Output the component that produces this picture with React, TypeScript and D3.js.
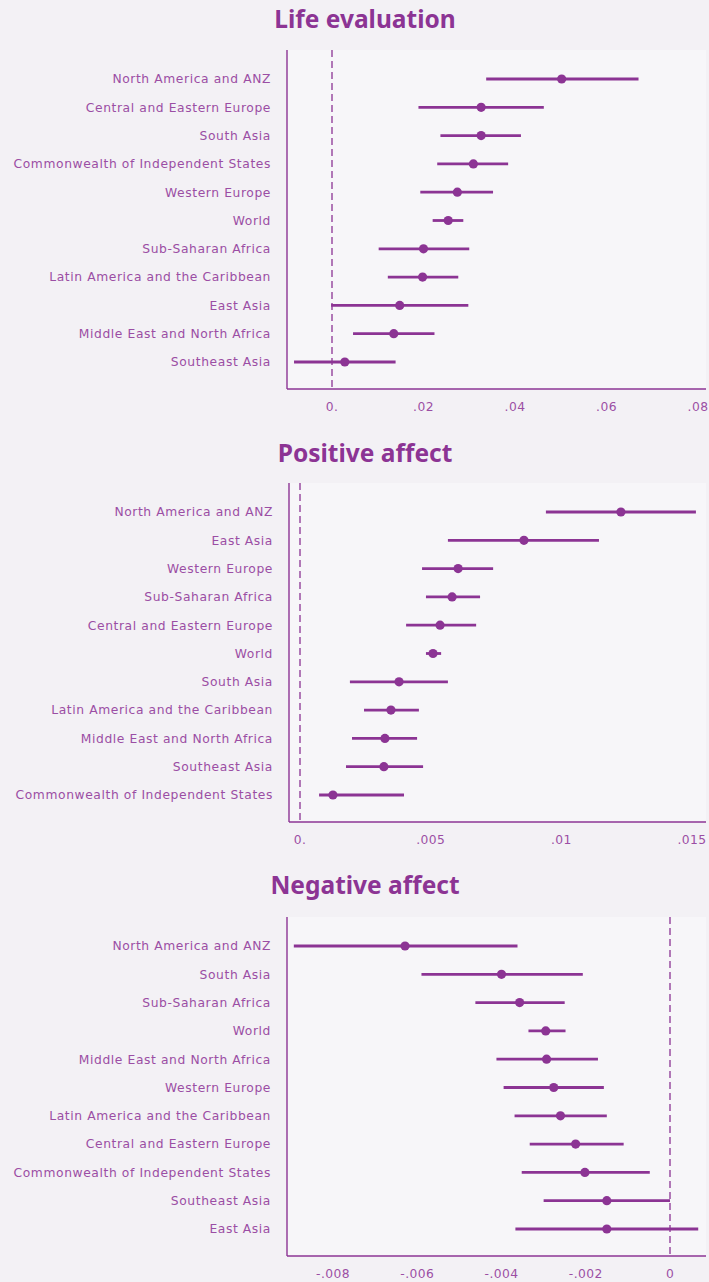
import React from 'react';
import * as d3 from 'd3';

// region order as drawn, top row first
const lifeRegions = [
  'North America and ANZ', 'Central and Eastern Europe', 'South Asia',
  'Commonwealth of Independent States', 'Western Europe', 'World',
  'Sub-Saharan Africa', 'Latin America and the Caribbean', 'East Asia',
  'Middle East and North Africa', 'Southeast Asia',
];
const lifeEst = [0.0502, 0.0326, 0.0326, 0.0309, 0.0274, 0.0254, 0.0200, 0.0198, 0.0148, 0.0135, 0.0028];
const lifeLo = [0.0337, 0.0189, 0.0237, 0.0230, 0.0193, 0.0220, 0.0102, 0.0122, -0.0002, 0.0046, -0.0083];
const lifeHi = [0.0670, 0.0463, 0.0413, 0.0385, 0.0352, 0.0287, 0.0300, 0.0276, 0.0298, 0.0224, 0.0139];
const lifeTicks = [0, 0.02, 0.04, 0.06, 0.08];
const lifeTickLabels = ['0.', '.02', '.04', '.06', '.08'];

const posRegions = [
  'North America and ANZ', 'East Asia', 'Western Europe', 'Sub-Saharan Africa',
  'Central and Eastern Europe', 'World', 'South Asia', 'Latin America and the Caribbean',
  'Middle East and North Africa', 'Southeast Asia', 'Commonwealth of Independent States',
];
const posEst = [0.01228, 0.00857, 0.00605, 0.00582, 0.00536, 0.00509, 0.00379, 0.00348, 0.00325, 0.00321, 0.00126];
const posLo = [0.00941, 0.00566, 0.00467, 0.00482, 0.00406, 0.00482, 0.00191, 0.00245, 0.00199, 0.00176, 0.00073];
const posHi = [0.01515, 0.01144, 0.00739, 0.00689, 0.00674, 0.00540, 0.00566, 0.00455, 0.00448, 0.00471, 0.00398];
const posTicks = [0, 0.005, 0.01, 0.015];
const posTickLabels = ['0.', '.005', '.01', '.015'];

const negRegions = [
  'North America and ANZ', 'South Asia', 'Sub-Saharan Africa', 'World',
  'Middle East and North Africa', 'Western Europe', 'Latin America and the Caribbean',
  'Central and Eastern Europe', 'Commonwealth of Independent States', 'Southeast Asia', 'East Asia',
];
const negEst = [-0.00629, -0.0040, -0.00357, -0.00295, -0.00293, -0.00276, -0.0026, -0.00224, -0.00202, -0.0015, -0.0015];
const negLo = [-0.00893, -0.0059, -0.00462, -0.00336, -0.00412, -0.00395, -0.00369, -0.00333, -0.00352, -0.0030, -0.00367];
const negHi = [-0.00362, -0.00207, -0.0025, -0.00248, -0.00171, -0.00157, -0.0015, -0.0011, -0.00048, 0, 0.00067];
const negTicks = [-0.008, -0.006, -0.004, -0.002, 0];
const negTickLabels = ['-.008', '-.006', '-.004', '-.002', '0'];

const W = 709;
const H = 1282;
const PURPLE = '#8c3494';
const LABEL = '#9b4ea4';
const FONT = '"DejaVu Sans", "Noto Sans", sans-serif';
const TITLE_FONT = '"Noto Sans", "Open Sans", sans-serif';

interface PanelProps {
  title: string;
  titleY: number;
  top: number;
  axisX: number;
  regions: string[];
  est: number[];
  lo: number[];
  hi: number[];
  ticks: number[];
  tickLabels: string[];
  range: [number, number];
}

const Panel: React.FC<PanelProps> = ({ title, titleY, top, axisX, regions, est, lo, hi, ticks, tickLabels, range }) => {
  const plotTop = top + 48;
  const plotBottom = plotTop + 339;
  const right = 706;
  const x = d3.scaleLinear().domain([ticks[0], ticks[ticks.length - 1]]).range(range);
  const y = d3
    .scalePoint<string>()
    .domain(regions)
    .range([plotTop + 29, plotBottom - 27]);

  return (
    <g>
      <text x={365} y={titleY} textAnchor="middle" fontFamily={TITLE_FONT} fontWeight={700}
        fontSize={24.5} fill={PURPLE}>{title}</text>
      <rect x={axisX} y={plotTop} width={right - axisX} height={plotBottom - plotTop} fill="#f7f6f9" />
      <line x1={x(0)} x2={x(0)} y1={plotTop} y2={plotBottom} stroke={PURPLE} strokeWidth={1.3}
        strokeDasharray="7,4" />
      <line x1={axisX} x2={axisX} y1={plotTop} y2={plotBottom} stroke={PURPLE} strokeWidth={1.4} />
      <line x1={axisX} x2={right} y1={plotBottom} y2={plotBottom} stroke={PURPLE} strokeWidth={1.4} />
      {regions.map((r, i) => (
        <g key={r}>
          <text x={axisX - 16} y={y(r)} dy="0.35em" textAnchor="end" fontFamily={FONT}
            fontSize={12.3} letterSpacing={0.6} fill={LABEL}>{r}</text>
          <line x1={x(lo[i])} x2={x(hi[i])} y1={y(r)} y2={y(r)} stroke={PURPLE} strokeWidth={2.8} />
          <circle cx={x(est[i])} cy={y(r)} r={4.6} fill={PURPLE} />
        </g>
      ))}
      {ticks.map((t, i) => (
        <text key={t} x={x(t)} y={plotBottom + 22} textAnchor="middle" fontFamily={FONT}
          fontSize={12.3} letterSpacing={0.4} fill={LABEL}>{tickLabels[i]}</text>
      ))}
    </g>
  );
};

export default function App() {
  return (
    <svg width={W} height={H} style={{ position: 'absolute', left: 0, top: 0, display: 'block' }}>
      <rect width={W} height={H} fill="#f3f1f5" />
      <Panel title="Life evaluation" titleY={28} top={2} axisX={287} regions={lifeRegions} est={lifeEst}
        lo={lifeLo} hi={lifeHi} ticks={lifeTicks} tickLabels={lifeTickLabels} range={[332, 698]} />
      <Panel title="Positive affect" titleY={462} top={435} axisX={289} regions={posRegions} est={posEst}
        lo={posLo} hi={posHi} ticks={posTicks} tickLabels={posTickLabels} range={[300, 692]} />
      <Panel title="Negative affect" titleY={894} top={869} axisX={287} regions={negRegions} est={negEst}
        lo={negLo} hi={negHi} ticks={negTicks} tickLabels={negTickLabels} range={[333, 670]} />
    </svg>
  );
}
